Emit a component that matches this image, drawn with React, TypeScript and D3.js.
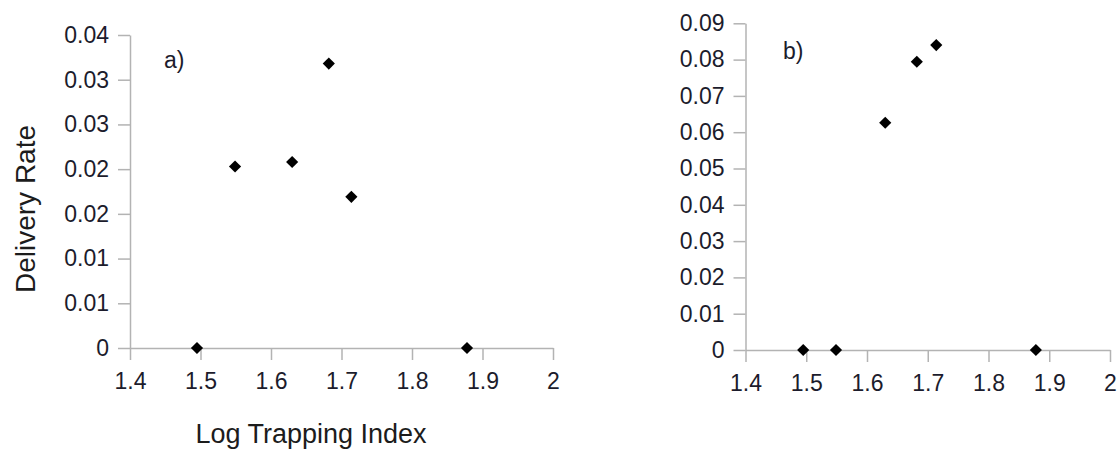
import React, { useEffect, useRef } from 'react'
import * as d3 from 'd3'

// shared x values (Log Trapping Index)
const trapIndex = [1.495, 1.549, 1.63, 1.682, 1.714, 1.878]
// panel a) delivery rates
const rateA = [0, 0.0203, 0.0208, 0.0318, 0.0169, 0]
// panel b) delivery rates
const rateB = [0, 0, 0.0626, 0.0794, 0.084, 0]

const xTicks = [1.4, 1.5, 1.6, 1.7, 1.8, 1.9, 2]
const xTickLabels = ['1.4', '1.5', '1.6', '1.7', '1.8', '1.9', '2']
const yTicksA = [0, 0.005, 0.01, 0.015, 0.02, 0.025, 0.03, 0.035]
const yTickLabelsA = ['0', '0.01', '0.01', '0.02', '0.02', '0.03', '0.03', '0.04']
const yTicksB = [0, 0.01, 0.02, 0.03, 0.04, 0.05, 0.06, 0.07, 0.08, 0.09]
const yTickLabelsB = ['0', '0.01', '0.02', '0.03', '0.04', '0.05', '0.06', '0.07', '0.08', '0.09']

const FONT = 'Liberation Sans, Arial, sans-serif'

const drawPanel = (svg, opts) => {
    const { left, right, top, bottom, yMax, yTicks, yLabels, values, tag, tagX, tagY } = opts
    const x = d3.scaleLinear().domain([1.4, 2]).range([left, right])
    const y = d3.scaleLinear().domain([0, yMax]).range([bottom, top])
    const g = svg.append('g')

    const xa = g.append('g')
        .attr('transform', `translate(0,${bottom})`)
        .call(d3.axisBottom(x).tickValues(xTicks).tickFormat((d, i) => xTickLabels[i]).tickSize(12).tickSizeOuter(0).tickPadding(13))
    const ya = g.append('g')
        .attr('transform', `translate(${left},0)`)
        .call(d3.axisLeft(y).tickValues(yTicks).tickFormat((d, i) => yLabels[i]).tickSize(12).tickSizeOuter(0).tickPadding(9))

    for (const a of [xa, ya]) {
        a.selectAll('path, line').attr('stroke', '#b3b3b3').attr('stroke-width', 1.5)
        a.selectAll('text').attr('fill', '#1c1c2c').style('font-family', FONT).style('font-size', '23px')
    }

    const sym = d3.symbol().type(d3.symbolSquare).size(74)
    g.selectAll('path.pt')
        .data(trapIndex.map((t, i) => [t, values[i]]))
        .join('path')
        .attr('class', 'pt')
        .attr('d', sym)
        .attr('fill', '#000')
        .attr('transform', d => `translate(${x(d[0])},${y(d[1])}) rotate(45)`)

    g.append('text')
        .attr('x', tagX).attr('y', tagY)
        .style('font-family', FONT).style('font-size', '23px')
        .attr('fill', '#1c1c2c')
        .text(tag)
}

const App = () => {
    const ref = useRef(null)
    useEffect(() => {
        const svg = d3.select(ref.current)
        svg.selectAll('*').remove()

        drawPanel(svg, {
            left: 130, right: 553, top: 35, bottom: 348,
            yMax: 0.035, yTicks: yTicksA, yLabels: yTickLabelsA, values: rateA,
            tag: 'a)', tagX: 164, tagY: 68
        })
        drawPanel(svg, {
            left: 745.5, right: 1110, top: 23.3, bottom: 350,
            yMax: 0.09, yTicks: yTicksB, yLabels: yTickLabelsB, values: rateB,
            tag: 'b)', tagX: 783, tagY: 59
        })

        svg.append('text')
            .attr('x', 311).attr('y', 443)
            .attr('text-anchor', 'middle')
            .style('font-family', FONT).style('font-size', '27px')
            .attr('fill', '#1c1c1c')
            .text('Log Trapping Index')

        svg.append('text')
            .attr('transform', 'translate(35,209) rotate(-90)')
            .attr('text-anchor', 'middle')
            .style('font-family', FONT).style('font-size', '28px')
            .attr('fill', '#1c1c1c')
            .text('Delivery Rate')
    }, [])

    return (
        <svg ref={ref} width={1120} height={451}
            style={{ position: 'absolute', left: 0, top: 0, background: '#fff' }} />
    )
}

export default App
